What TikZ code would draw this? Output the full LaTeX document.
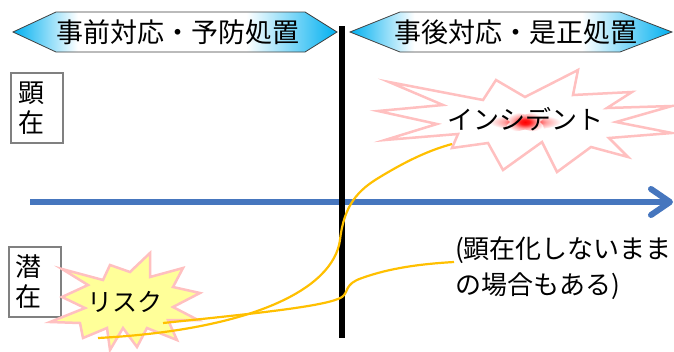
\documentclass[tikz,border=0pt]{standalone}
\usepackage{fontspec}
\setmainfont{Noto Sans CJK JP}
\definecolor{bannerblue}{RGB}{0,176,240}
\definecolor{bannerline}{RGB}{64,64,64}
\definecolor{axisblue}{RGB}{70,118,190}
\definecolor{curveorange}{RGB}{255,192,0}
\definecolor{starpink}{RGB}{255,192,192}
\definecolor{staryellow}{RGB}{255,255,153}
\definecolor{boxgray}{RGB}{128,128,128}
\pgfdeclarehorizontalshading{bannershade}{100bp}{color(0bp)=(bannerblue); color(25bp)=(bannerblue); color(35bp)=(white); color(61bp)=(white); color(75bp)=(bannerblue); color(100bp)=(bannerblue)}
\pgfdeclareradialshading{glowshade}{\pgfpoint{0bp}{0bp}}{color(0bp)=(red); color(6bp)=(red!90); color(15bp)=(red!35); color(25bp)=(white); color(50bp)=(white)}
\begin{document}
\begin{tikzpicture}[x=1pt,y=-1pt,
  banner/.style={shading=bannershade, draw=bannerline, line width=0.8pt},
  bannertext/.style={font=\fontsize{27}{30}\selectfont, inner sep=0pt},
  sidebox/.style={draw=boxgray, line width=1.2pt, fill=white, align=left, text width=38pt, inner xsep=7pt, inner ysep=0pt, minimum height=70pt, font=\fontsize{26}{30}\selectfont},
  starline/.style={draw=starpink, line width=2.5pt},
  bigtext/.style={font=\fontsize{26}{36}\selectfont, inner sep=0pt},
  curve/.style={draw=curveorange, line width=2.2pt},
  axis/.style={draw=axisblue, line width=6pt}
]
\useasboundingbox (0,0) rectangle (674,351);
\fill[white] (0,0) rectangle (674,351);

% banners
\shadedraw[banner] (13,32) -- (56,12) -- (305,12) -- (337,32) -- (305,52) -- (56,52) -- cycle;
\shadedraw[banner] (350,32) -- (400,12) -- (620,12) -- (672,32) -- (620,52) -- (400,52) -- cycle;
\node[bannertext] (pre) at (178,32) {事前対応・予防処置};
\node[bannertext] (post) at (516,32) {事後対応・是正処置};

% side boxes
\node[sidebox] (kenzai) at (37,108) {顕\\在};
\node[sidebox] (senzai) at (35,282) {潜\\在};

% time axis
\coordinate (axstart) at (30,202);
\coordinate (axend) at (670,202);
\draw[axis] (axstart) -- (axend);
\draw[axis, line cap=round, line join=round] (651,189) -- (axend) -- (651,215);

% divider
\coordinate (bartop) at (341.5,26);
\coordinate (barbot) at (341.5,338);
\draw[line width=6pt] (bartop) -- (barbot);

% incident explosion
\filldraw[starline, fill=white] (389,82) -- (483,100) -- (496,80) -- (525,97) -- (578,70) -- (573,95)
  -- (632,92) -- (607,108) -- (672,106) -- (616,122) -- (672,133) -- (609,138) -- (628,157)
  -- (591,147) -- (557,172) -- (542,142) -- (503,170) -- (488,143) -- (452,148) -- (458,134)
  -- (385,140) -- (437,124) -- (378,111) -- (443,105) -- cycle;
\shade[shading=glowshade] (525,122) ellipse [x radius=36, y radius=8];
\shade[shading=glowshade, rotate around={20:(525,122)}] (525,122) ellipse [x radius=20, y radius=7];
\shade[shading=glowshade, rotate around={-20:(525,122)}] (525,122) ellipse [x radius=20, y radius=7];
\node[bigtext] (incident) at (525,119) {インシデント};

% risk explosion
\filldraw[starline, fill=staryellow] (62,269) -- (88,285) -- (62,297) -- (85,308) -- (50,322)
  -- (80,323) -- (83,338) -- (107,328) -- (110,350) -- (123,328) -- (137,347) -- (147,328)
  -- (177,340) -- (168,320) -- (198,320) -- (173,307) -- (200,293) -- (173,287) -- (183,268)
  -- (150,277) -- (150,253) -- (130,272) -- (110,265) -- (103,280) -- cycle;
\node[font=\fontsize{25}{30}\selectfont, inner sep=0pt] (risk) at (125,302) {リスク};

% note
\node[bigtext, anchor=north west, align=left] (note) at (455,236) {(顕在化しないまま\\の場合もある)};

% curves
\coordinate (c1s) at (98,338);
\coordinate (c1e) at (452,144);
\coordinate (c2s) at (163,323);
\coordinate (c2e) at (454,262);
\draw[curve] (c1s) .. controls (250,330) and (333,290) .. (340,240)
  .. controls (344,205) and (358,190) .. (380,177)
  .. controls (408,160) and (430,150) .. (c1e);
\draw[curve] (c2s) .. controls (260,313) and (328,306) .. (342,297)
  .. controls (349,292) and (344,284) .. (362,278)
  .. controls (390,268) and (420,264) .. (c2e);
\end{tikzpicture}
\end{document}
